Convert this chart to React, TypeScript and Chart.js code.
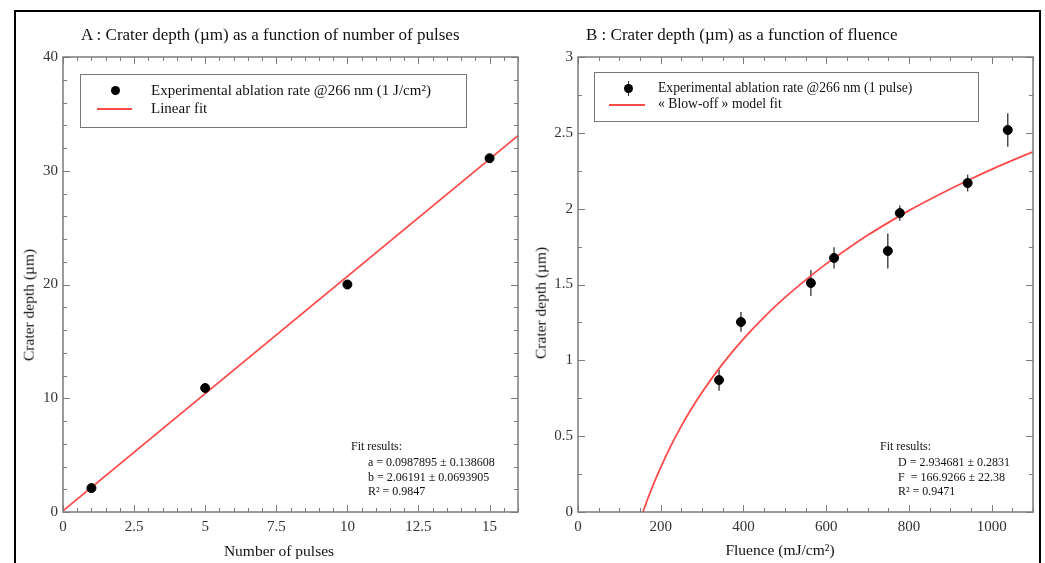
import React, { useEffect, useRef } from "react";
import { Chart, registerables } from "chart.js";

Chart.register(...registerables);

const FONT = "'Liberation Serif', 'Times New Roman', Times, serif";
const RED = "#ff4a4a";
const GREY = "#7b7b7b";

// ---------- Panel A: depth vs number of pulses ----------
const pulseCounts = [1, 5, 10, 15];
const depthVsPulses = [2.1, 10.9, 20.0, 31.1];
const linearFitX = [0, 16];
const linearFitY = [0.0988, 33.09];
const aXTicks = [0, 2.5, 5, 7.5, 10, 12.5, 15];
const aYTicks = [0, 10, 20, 30, 40];

// ---------- Panel B: depth vs fluence ----------
const fluenceValues = [341, 394, 563, 619, 749, 778, 942, 1039];
const depthVsFluence = [0.87, 1.253, 1.51, 1.675, 1.721, 1.971, 2.169, 2.519];
const depthErrors = [0.07, 0.065, 0.085, 0.07, 0.115, 0.05, 0.055, 0.11];
const modelFluence = [157, 170, 185, 200, 225, 250, 275, 300, 350, 400, 450, 500, 550, 600, 650, 700, 750, 800, 850, 900, 950, 1000, 1050, 1100];
const modelDepth = [0, 0.097, 0.2, 0.295, 0.439, 0.568, 0.684, 0.79, 0.978, 1.141, 1.285, 1.413, 1.529, 1.636, 1.733, 1.824, 1.908, 1.987, 2.06, 2.13, 2.196, 2.259, 2.318, 2.375];
const bXTicks = [0, 200, 400, 600, 800, 1000];
const bYTicks = [0, 0.5, 1, 1.5, 2, 2.5, 3];

function steps(min: number, max: number, step: number): number[] {
  const out: number[] = [];
  const n = Math.round((max - min) / step);
  for (let i = 0; i <= n; i++) out.push(+(min + i * step).toFixed(6));
  return out;
}

type PanelCfg = {
  xMin: number; xMax: number; yMin: number; yMax: number;
  xTicks: number[]; yTicks: number[];
  xMinorStep: number; yMinorStep: number;
  padRight: number;
  errors?: { x: number[]; y: number[]; e: number[] };
};

function makeFramePlugin(cfg: PanelCfg) {
  return {
    id: "axisFrame",
    beforeDatasetsDraw(chart: any) {
      if (!cfg.errors) return;
      const { ctx } = chart;
      const xs = chart.scales.x, ys = chart.scales.y;
      ctx.save();
      ctx.strokeStyle = "#333";
      ctx.lineWidth = 1.3;
      cfg.errors.x.forEach((xv, i) => {
        const px = xs.getPixelForValue(xv);
        const y = cfg.errors!.y[i], e = cfg.errors!.e[i];
        ctx.beginPath();
        ctx.moveTo(px, ys.getPixelForValue(y - e));
        ctx.lineTo(px, ys.getPixelForValue(y + e));
        ctx.stroke();
      });
      ctx.restore();
    },
    afterDatasetsDraw(chart: any) {
      const { ctx, chartArea: a } = chart;
      const xs = chart.scales.x, ys = chart.scales.y;
      ctx.save();
      ctx.strokeStyle = GREY;
      ctx.lineWidth = 1;
      const seg = (x1: number, y1: number, x2: number, y2: number) => {
        ctx.beginPath(); ctx.moveTo(x1, y1); ctx.lineTo(x2, y2); ctx.stroke();
      };
      const xMinor = steps(cfg.xMin, cfg.xMax, cfg.xMinorStep);
      const yMinor = steps(cfg.yMin, cfg.yMax, cfg.yMinorStep);
      xMinor.forEach((v) => {
        const px = Math.round(xs.getPixelForValue(v)) + 0.5;
        seg(px, a.bottom, px, a.bottom - 4);
        seg(px, a.top, px, a.top + 4);
      });
      cfg.xTicks.forEach((v) => {
        const px = Math.round(xs.getPixelForValue(v)) + 0.5;
        seg(px, a.bottom, px, a.bottom - 7);
        seg(px, a.top, px, a.top + 7);
      });
      yMinor.forEach((v) => {
        const py = Math.round(ys.getPixelForValue(v)) + 0.5;
        seg(a.left, py, a.left + 4, py);
        seg(a.right, py, a.right - 4, py);
      });
      cfg.yTicks.forEach((v) => {
        const py = Math.round(ys.getPixelForValue(v)) + 0.5;
        seg(a.left, py, a.left + 7, py);
        seg(a.right, py, a.right - 7, py);
      });
      ctx.lineWidth = 1.5;
      ctx.strokeRect(a.left, a.top, a.right - a.left, a.bottom - a.top);
      ctx.restore();
    },
  };
}

function buildChart(canvas: HTMLCanvasElement, cfg: PanelCfg, datasets: any[]) {
  const tickFont = { family: FONT, size: 15 };
  return new Chart(canvas, {
    type: "scatter",
    data: { datasets },
    options: {
      animation: false,
      responsive: false,
      events: [],
      layout: { padding: { left: 0, top: 45, right: cfg.padRight, bottom: 0 } },
      plugins: {
        legend: { display: false },
        tooltip: { enabled: false },
        title: { display: false },
      },
      scales: {
        x: {
          type: "linear",
          min: cfg.xMin,
          max: cfg.xMax,
          grid: { display: false, drawTicks: false },
          border: { display: false },
          ticks: {
            font: tickFont,
            color: "#333",
            padding: 6,
            maxRotation: 0,
            autoSkip: false,
            callback: (v: any) => String(v),
          },
          afterBuildTicks: (s: any) => {
            s.ticks = cfg.xTicks.map((v) => ({ value: v }));
          },
          afterFit: (s: any) => {
            s.height = 51;
          },
        },
        y: {
          type: "linear",
          min: cfg.yMin,
          max: cfg.yMax,
          grid: { display: false, drawTicks: false },
          border: { display: false },
          ticks: {
            font: tickFont,
            color: "#333",
            padding: 5,
            autoSkip: false,
            callback: (v: any) => String(v),
          },
          afterBuildTicks: (s: any) => {
            s.ticks = cfg.yTicks.map((v) => ({ value: v }));
          },
          afterFit: (s: any) => {
            s.width = 48;
          },
        },
      },
    } as any,
    plugins: [makeFramePlugin(cfg)],
  });
}

function Txt(props: { s: string; left: number; baseline: number; fs: number; center?: boolean; color?: string }) {
  const { s, left, baseline, fs, center, color } = props;
  return (
    <div
      style={{
        position: "absolute",
        left,
        top: baseline - 0.9375 * fs,
        fontFamily: FONT,
        fontSize: fs,
        lineHeight: `${fs * 1.2}px`,
        whiteSpace: "pre",
        color: color || "#111",
        transform: center ? "translateX(-50%)" : undefined,
      }}
    >
      {s}
    </div>
  );
}

function VTxt(props: { s: string; cx: number; cy: number; fs: number }) {
  return (
    <div
      style={{
        position: "absolute",
        left: props.cx,
        top: props.cy,
        fontFamily: FONT,
        fontSize: props.fs,
        lineHeight: `${props.fs * 1.2}px`,
        whiteSpace: "nowrap",
        color: "#111",
        transform: "translate(-50%, -50%) rotate(-90deg)",
      }}
    >
      {props.s}
    </div>
  );
}

export default function App() {
  const refA = useRef<HTMLCanvasElement>(null);
  const refB = useRef<HTMLCanvasElement>(null);

  useEffect(() => {
    const cfgA: PanelCfg = {
      xMin: 0, xMax: 16, yMin: 0, yMax: 40,
      xTicks: aXTicks, yTicks: aYTicks,
      xMinorStep: 0.5, yMinorStep: 2,
      padRight: 12,
    };
    const cfgB: PanelCfg = {
      xMin: 0, xMax: 1100, yMin: 0, yMax: 3,
      xTicks: bXTicks, yTicks: bYTicks,
      xMinorStep: 50, yMinorStep: 0.25,
      padRight: 6,
      errors: { x: fluenceValues, y: depthVsFluence, e: depthErrors },
    };
    const chartA = buildChart(refA.current!, cfgA, [
      {
        label: "Experimental ablation rate @266 nm (1 J/cm²)",
        data: pulseCounts.map((p, i) => ({ x: p, y: depthVsPulses[i] })),
        backgroundColor: "#000",
        borderColor: "#000",
        pointRadius: 4.5,
        showLine: false,
      },
      {
        label: "Linear fit",
        data: linearFitX.map((x, i) => ({ x, y: linearFitY[i] })),
        borderColor: RED,
        borderWidth: 1.8,
        pointRadius: 0,
        showLine: true,
        fill: false,
      },
    ]);
    const chartB = buildChart(refB.current!, cfgB, [
      {
        label: "Experimental ablation rate @266 nm (1 pulse)",
        data: fluenceValues.map((f, i) => ({ x: f, y: depthVsFluence[i] })),
        backgroundColor: "#000",
        borderColor: "#000",
        pointRadius: 4.5,
        showLine: false,
      },
      {
        label: "« Blow-off » model fit",
        data: modelFluence.map((f, i) => ({ x: f, y: modelDepth[i] })),
        borderColor: RED,
        borderWidth: 1.8,
        pointRadius: 0,
        showLine: true,
        fill: false,
        tension: 0.4,
        cubicInterpolationMode: "monotone",
      },
    ]);
    return () => {
      chartA.destroy();
      chartB.destroy();
    };
  }, []);

  return (
    <div
      style={{
        position: "fixed",
        left: 0,
        top: 0,
        width: 1045,
        height: 563,
        background: "#fff",
        overflow: "hidden",
      }}
    >
      {/* outer frame */}
      <div
        style={{
          position: "absolute",
          left: 14,
          top: 10,
          width: 1023,
          height: 600,
          border: "2px solid #000",
        }}
      />
      <canvas
        ref={refA}
        width={515}
        height={551}
        style={{ position: "absolute", left: 15, top: 12, width: 515, height: 551 }}
      />
      <canvas
        ref={refB}
        width={509}
        height={551}
        style={{ position: "absolute", left: 530, top: 12, width: 509, height: 551 }}
      />

      {/* Panel A texts */}
      <Txt s="A : Crater depth (µm) as a function of number of pulses" left={81} baseline={41} fs={17} />
      <VTxt s="Crater depth (µm)" cx={29} cy={305} fs={15.5} />
      <Txt s="Number of pulses" left={279} baseline={557} fs={15.5} center />
      <div style={{ position: "absolute", left: 80, top: 74, width: 385, height: 52, border: "1px solid #777" }} />
      <div style={{ position: "absolute", left: 110.5, top: 85.5, width: 9, height: 9, borderRadius: "50%", background: "#000" }} />
      <div style={{ position: "absolute", left: 97, top: 108, width: 35, height: 2, background: RED }} />
      <Txt s="Experimental ablation rate @266 nm (1 J/cm²)" left={151} baseline={95} fs={15} />
      <Txt s="Linear fit" left={151} baseline={113} fs={15} />
      <Txt s="Fit results:" left={351} baseline={450} fs={12} />
      <Txt s="a = 0.0987895 ± 0.138608" left={368} baseline={466} fs={12} />
      <Txt s="b = 2.06191 ± 0.0693905" left={368} baseline={481} fs={12} />
      <Txt s="R² = 0.9847" left={368} baseline={495} fs={12} />

      {/* Panel B texts */}
      <Txt s="B : Crater depth (µm) as a function of fluence" left={586} baseline={41} fs={17} />
      <VTxt s="Crater depth (µm)" cx={541} cy={303} fs={15.5} />
      <Txt s="Fluence (mJ/cm²)" left={780} baseline={556} fs={15.5} center />
      <div style={{ position: "absolute", left: 594, top: 72, width: 383, height: 48, border: "1px solid #777" }} />
      <div style={{ position: "absolute", left: 627.5, top: 81, width: 1.3, height: 15, background: "#333" }} />
      <div style={{ position: "absolute", left: 623.5, top: 83.5, width: 9, height: 9, borderRadius: "50%", background: "#000" }} />
      <div style={{ position: "absolute", left: 609, top: 104, width: 36, height: 2, background: RED }} />
      <Txt s="Experimental ablation rate @266 nm (1 pulse)" left={658} baseline={93} fs={13.7} />
      <Txt s="« Blow-off » model fit" left={658} baseline={109} fs={13.7} />
      <Txt s="Fit results:" left={880} baseline={450} fs={12} />
      <Txt s="D = 2.934681 ± 0.2831" left={898} baseline={466} fs={12} />
      <Txt s="F  = 166.9266 ± 22.38" left={898} baseline={481} fs={12} />
      <Txt s="R² = 0.9471" left={898} baseline={495} fs={12} />
    </div>
  );
}
